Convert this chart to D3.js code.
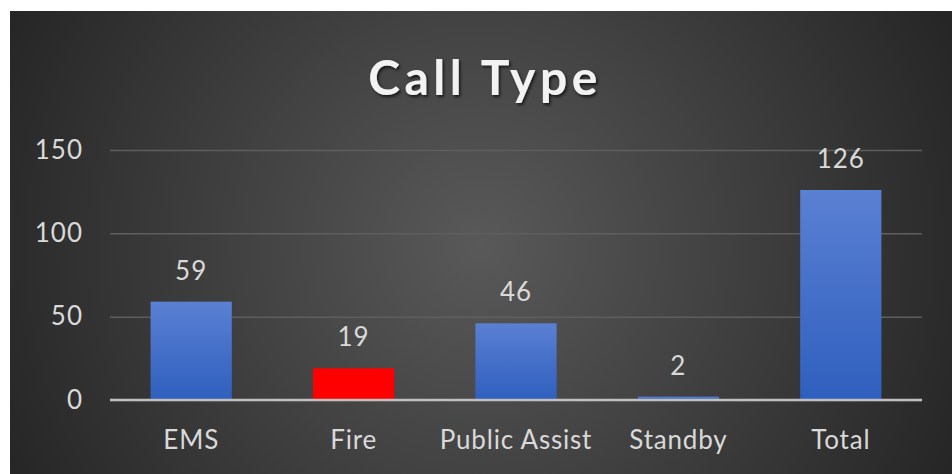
<!DOCTYPE html>
<html><head><meta charset="utf-8">
<script src="https://cdn.jsdelivr.net/npm/d3@7"></script>
<style>
html,body{margin:0;padding:0;background:#fff;}
svg{display:block;}
text{font-family:Lato,"Open Sans",sans-serif;}
</style></head>
<body><svg id="chart" width="952" height="474"></svg>
<script>
const categories = ["EMS", "Fire", "Public Assist", "Standby", "Total"];
const values = [59, 19, 46, 2, 126];
const barColors = ["blue", "red", "blue", "blue", "blue"];
const yTicks = [0, 50, 100, 150];
const title = "Call Type";

const W = 952, H = 474;
const svg = d3.select("#chart");
const defs = svg.append("defs");
const rg = defs.append("radialGradient").attr("id","bg")
  .attr("gradientUnits","userSpaceOnUse").attr("cx",480).attr("cy",245).attr("r",520);
rg.append("stop").attr("offset","0%").attr("stop-color","#595959");
rg.append("stop").attr("offset","100%").attr("stop-color","#262626");
const bg = defs.append("linearGradient").attr("id","barBlue").attr("x1",0).attr("y1",0).attr("x2",0).attr("y2",1);
bg.append("stop").attr("offset","0%").attr("stop-color","#5a80d3");
bg.append("stop").attr("offset","100%").attr("stop-color","#2f5fbe");
const f = defs.append("filter").attr("id","shadow").attr("x","-10%").attr("y","-20%").attr("width","120%").attr("height","150%");
f.append("feDropShadow").attr("dx",1.5).attr("dy",2).attr("stdDeviation",1.5).attr("flood-color","#000").attr("flood-opacity",0.7);

svg.append("rect").attr("x",10).attr("y",11).attr("width",W-10).attr("height",H-11).attr("fill","url(#bg)");

const margin = {left:110, right:30, top:150, bottom:74};
const x = d3.scaleBand().domain(categories).range([margin.left, W - margin.right]).paddingInner(0.5).paddingOuter(0.25);
const y = d3.scaleLinear().domain([0,150]).range([400,150]);

// gridlines
const grid = svg.append("g").attr("transform",`translate(${margin.left},0)`)
  .call(d3.axisLeft(y).tickValues(yTicks).tickSize(-(W - margin.right - margin.left)).tickFormat(""));
grid.select(".domain").remove();
grid.selectAll(".tick line").attr("stroke","#5e5e5e").attr("stroke-width",1.5);

// y tick labels
const yax = svg.append("g").attr("transform",`translate(${margin.left-27},0)`)
  .call(d3.axisLeft(y).tickValues(yTicks).tickSize(0).tickPadding(0));
yax.select(".domain").remove();
yax.selectAll("text").attr("fill","#d9d9d9").attr("font-size",26).attr("letter-spacing",1)
  .style("font-family","Lato,'Open Sans',sans-serif");

// bars
svg.append("g").selectAll("rect").data(values).join("rect")
  .attr("x",(d,i)=>x(categories[i]))
  .attr("y",d=>y(d))
  .attr("width",x.bandwidth())
  .attr("height",d=>y(0)-y(d))
  .attr("fill",(d,i)=>barColors[i]==="red" ? "#ff0000" : "url(#barBlue)");

// baseline
svg.append("line").attr("x1",margin.left).attr("x2",W - margin.right)
  .attr("y1",y(0)).attr("y2",y(0)).attr("stroke","#bfbfbf").attr("stroke-width",2.5);

// value labels
svg.append("g").selectAll("text").data(values).join("text")
  .attr("x",(d,i)=>x(categories[i]) + x.bandwidth()/2)
  .attr("y",d=>y(d) - 22)
  .attr("text-anchor","middle").attr("fill","#d9d9d9").attr("font-size",26).attr("letter-spacing",1)
  .text(d=>d);

// category labels
const xax = svg.append("g").attr("transform",`translate(0,${y(0)})`)
  .call(d3.axisBottom(x).tickSize(0).tickPadding(0));
xax.select(".domain").remove();
xax.selectAll("text").attr("fill","#d9d9d9").attr("font-size",26).attr("letter-spacing",0.8).attr("dy",0).attr("y",49)
  .style("font-family","Lato,'Open Sans',sans-serif");

// title
svg.append("text").attr("x",485).attr("y",95).attr("text-anchor","middle")
  .attr("fill","#f2f2f2").attr("font-size",48).attr("font-weight","bold")
  .attr("letter-spacing",4.5).attr("filter","url(#shadow)").text(title);
</script></body></html>
